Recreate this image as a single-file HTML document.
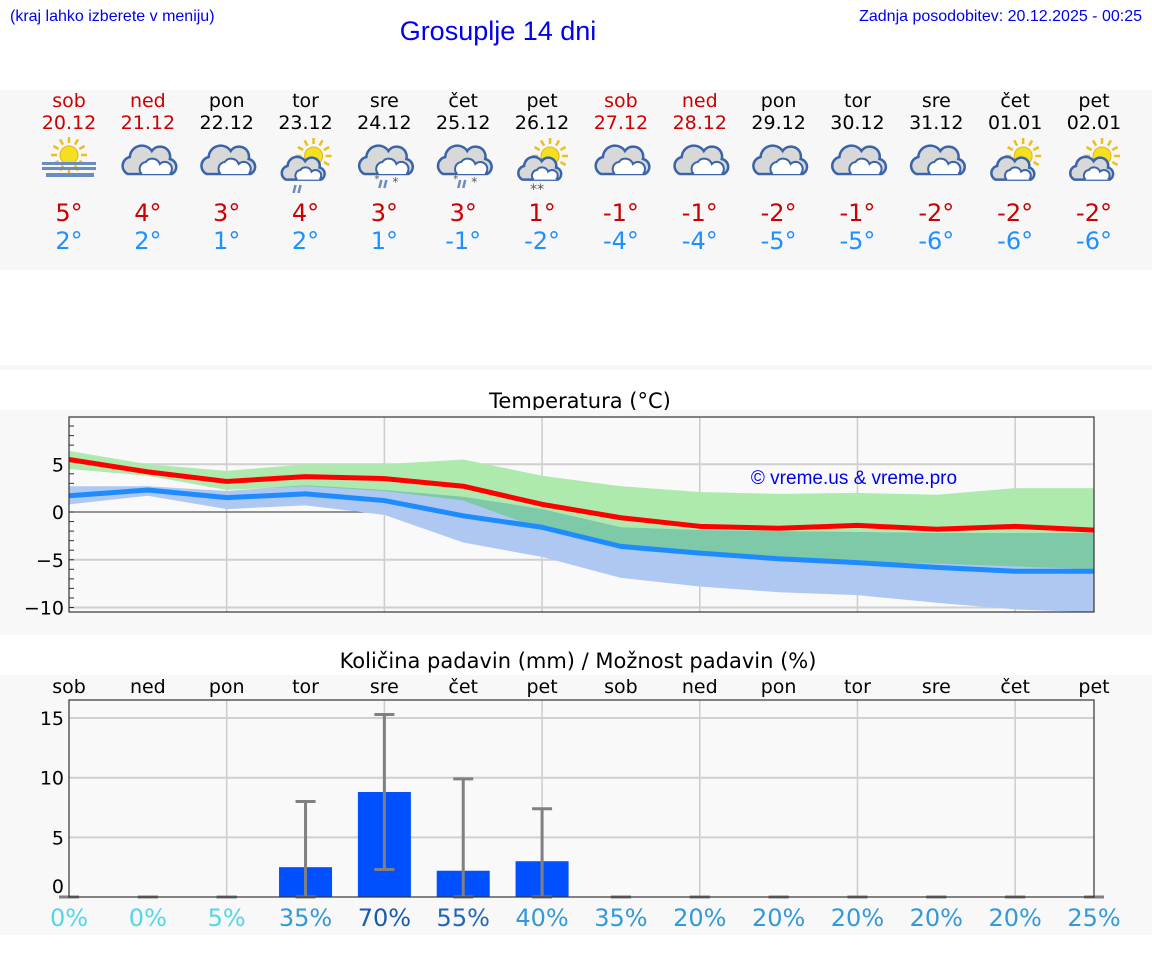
<!DOCTYPE html>
<html><head><meta charset="utf-8"><style>
body{margin:0;background:#fff;font-family:"Liberation Sans","DejaVu Sans",sans-serif;}
svg{display:block}
</style></head><body>
<svg id="s" width="1152" height="975" xmlns="http://www.w3.org/2000/svg" font-family="'DejaVu Sans','Liberation Sans',sans-serif">
<rect x="0" y="0" width="1152" height="975" fill="#fff"/>
<text x="10" y="21" font-size="16" fill="#0000ee" font-family="'Liberation Sans',sans-serif">(kraj lahko izberete v meniju)</text>
<text x="498" y="40" font-size="27" fill="#0000ee" text-anchor="middle" font-family="'Liberation Sans',sans-serif">Grosuplje 14 dni</text>
<text x="1142" y="21" font-size="16" fill="#0000ee" text-anchor="end" font-family="'Liberation Sans',sans-serif">Zadnja posodobitev: 20.12.2025 - 00:25</text>
<rect x="0" y="90" width="1152" height="180" fill="#f7f7f7"/>
<rect x="0" y="365" width="1152" height="5" fill="#f7f7f7"/>
<text x="580" y="408" font-size="21" text-anchor="middle" fill="#000">Temperatura (°C)</text>
<rect x="0" y="410" width="1152" height="225" fill="#f8f8f8"/>
<text x="578" y="668" font-size="21" text-anchor="middle" fill="#000">Količina padavin (mm) / Možnost padavin (%)</text>
<rect x="0" y="675" width="1152" height="260" fill="#f8f8f8"/>
<defs><clipPath id="loclip"><path id="loclipPath" d=""/></clipPath></defs>
<g id="summary"></g>
<g id="temp"></g>
<g id="prec"></g>
</svg>
<script>
const dayNames=["sob","ned","pon","tor","sre","čet","pet","sob","ned","pon","tor","sre","čet","pet"];
const dates=["20.12","21.12","22.12","23.12","24.12","25.12","26.12","27.12","28.12","29.12","30.12","31.12","01.01","02.01"];
const weekend=[1,1,0,0,0,0,0,1,1,0,0,0,0,0];
const icons=["fog","cloud","cloud","sunrain","sleet","sleet","sunsnow","cloud","cloud","cloud","cloud","cloud","suncloud","suncloud"];
const tMax=[5,4,3,4,3,3,1,-1,-1,-2,-1,-2,-2,-2];
const tMin=[2,2,1,2,1,-1,-2,-4,-4,-5,-5,-6,-6,-6];
const hiLine=[5.5,4.2,3.2,3.7,3.5,2.7,0.8,-0.6,-1.5,-1.7,-1.4,-1.8,-1.5,-1.9];
const loLine=[1.7,2.3,1.5,1.9,1.2,-0.4,-1.6,-3.6,-4.3,-4.9,-5.3,-5.8,-6.2,-6.2];
const hiBandMax=[6.4,5.0,4.3,5.0,5.0,5.5,3.8,2.7,2.1,1.9,2.0,1.8,2.5,2.5];
const hiBandMin=[4.5,3.8,2.3,2.7,2.2,1.2,-1.8,-3.9,-4.6,-5.0,-5.2,-5.4,-5.7,-6.0];
const loBandMax=[2.7,2.7,2.2,2.8,2.3,1.6,0.3,-1.6,-1.9,-2.0,-2.1,-2.2,-2.2,-2.2];
const loBandMin=[0.8,1.7,0.3,0.7,-0.3,-3.2,-4.7,-6.9,-7.8,-8.4,-8.7,-9.5,-10.2,-10.5];
const tempTicks=[5,0,-5,-10];
const precip=[0,0,0,2.5,8.8,2.2,3.0,0,0,0,0,0,0,0];
const precipHi=[0,0,0,8.0,15.3,9.9,7.4,0,0,0,0,0,0,0];
const precipLo=[0,0,0,0,2.3,0,0,0,0,0,0,0,0,0];
const chance=[0,0,5,35,70,55,40,35,20,20,20,20,20,25];
const precipTicks=[15,10,5,0];

const NS="http://www.w3.org/2000/svg";
function mk(tag,attrs,parent,txt){const e=document.createElementNS(NS,tag);for(const k in attrs)e.setAttribute(k,attrs[k]);if(txt!==undefined)e.textContent=txt;parent.appendChild(e);return e;}
const X0=69,X1=1094,N=14;
const xd=i=>X0+i*(X1-X0)/(N-1);

// summary
const sg=document.getElementById('summary');
function sun(g,cx,cy,r){const rays=mk('g',{stroke:'#e8c020','stroke-width':2.5},g);for(let a=0;a<12;a++){const t=a*Math.PI/6;mk('line',{x1:cx+Math.cos(t)*(r+3),y1:cy+Math.sin(t)*(r+3),x2:cx+Math.cos(t)*(r+9),y2:cy+Math.sin(t)*(r+9)},rays);}mk('circle',{cx:cx,cy:cy,r:r,fill:'#f5e020',stroke:'#e8b020','stroke-width':1},g);}
function cloud(g,cx,cy,s){const p=`M${cx-22*s},${cy+12*s} a${9*s},${9*s} 0 0 1 ${2*s},${-17*s} a${12*s},${12*s} 0 0 1 ${22*s},${-6*s} a${10*s},${10*s} 0 0 1 ${18*s},${8*s} a${8*s},${8*s} 0 0 1 ${2*s},${15*s} z`;mk('path',{d:p,fill:'#d8d8d8',stroke:'#3a64a8','stroke-width':2.5},g);mk('path',{d:`M${cx-8*s},${cy+12*s} a${7*s},${7*s} 0 0 1 ${4*s},${-12*s} a${8*s},${8*s} 0 0 1 ${14*s},${2*s} a${6*s},${6*s} 0 0 1 ${10*s},${10*s}`,fill:'#fff',stroke:'#3a64a8','stroke-width':2},g);}
for(let i=0;i<N;i++){const x=xd(i);const col=weekend[i]?'#cc0000':'#000';
 const d=mk('text',{x:x,y:107,'font-size':19,'text-anchor':'middle',fill:col},sg,dayNames[i]);
 
 
 const dt=mk('text',{x:x,y:129,'font-size':19,'text-anchor':'middle',fill:col},sg,dates[i]);
 
 
 const ig=mk('g',{},sg);
 
 
 const t=icons[i];
 if(t==='fog'){sun(ig,x,155,9);mk('rect',{x:x-27,y:162,width:54,height:3,fill:'#6a8cc0'},ig);mk('rect',{x:x-27,y:167,width:54,height:3,fill:'#6a8cc0'},ig);mk('rect',{x:x-23,y:173,width:48,height:4,fill:'#6a8cc0'},ig);}
 else if(t==='cloud'){cloud(ig,x+2,162,1);}
 else if(t==='sunrain'){sun(ig,x+8,156,9);cloud(ig,x-2,170,0.8);mk('path',{d:`M${x-10},185 l-2,8 M${x-5},185 l-2,8`,stroke:'#6a8cc0','stroke-width':2.5},ig);}
 else if(t==='sleet'){cloud(ig,x+2,162,1);mk('path',{d:`M${x-3},180 l-2,8 M${x+2},180 l-2,8`,stroke:'#6a8cc0','stroke-width':2.5},ig);mk('text',{x:x+8,y:186,'font-size':12,fill:'#555'},ig,'*');mk('text',{x:x-10,y:182,'font-size':10,fill:'#555'},ig,'*');}
 else if(t==='sunsnow'){sun(ig,x+8,156,9);cloud(ig,x-2,170,0.8);mk('text',{x:x-12,y:194,'font-size':14,fill:'#555'},ig,'**');}
 else {sun(ig,x+8,156,9);cloud(ig,x-2,170,0.8);}
 const h=mk('text',{x:x,y:221,'font-size':24,'text-anchor':'middle',fill:'#cc0000'},sg,tMax[i]+'°');
 
 
 const l=mk('text',{x:x,y:249,'font-size':24,'text-anchor':'middle',fill:'#1e90ff'},sg,tMin[i]+'°');
 
 
}

// temperature chart
const tg=document.getElementById('temp');
const TY0=417,TY1=612;const ty=v=>512-v*9.55;
mk('rect',{x:X0,y:TY0,width:X1-X0,height:TY1-TY0,fill:'#f9f9f9'},tg);
for(let i=2;i<N;i+=2){mk('line',{x1:xd(i),y1:TY0,x2:xd(i),y2:TY1,stroke:'#ccc','stroke-width':1.5},tg);}
tempTicks.forEach(v=>{const gl=mk('line',{x1:X0,y1:ty(v),x2:X1,y2:ty(v),stroke:v===0?'#555':'#d0d0d0','stroke-width':v===0?1.2:2},tg);
 const lb=mk('text',{x:64,y:ty(v)+7,'font-size':19,'text-anchor':'end',fill:'#000'},tg,v<0?'−'+(-v):String(v));
 
 });
for(let v=-10;v<=9;v++){mk('line',{x1:X0,y1:ty(v),x2:X0+5,y2:ty(v),stroke:'#333','stroke-width':1},tg);}
function bandPath(top,bot){let d='M'+top.map((v,i)=>xd(i)+','+ty(v)).join(' L');for(let i=N-1;i>=0;i--)d+=' L'+xd(i)+','+ty(bot[i]);return d+'Z';}
function band(top,bot,fill,name,extra){const p=mk('path',Object.assign({d:bandPath(top,bot),fill:fill},extra||{}),tg);
 
 }
document.getElementById('loclipPath').setAttribute('d',bandPath(loBandMax,loBandMin));
band(hiBandMax,hiBandMin,'#aeeaae','max-temperature-range');
band(loBandMax,loBandMin,'#aec8f2','min-temperature-range');
band(hiBandMax,hiBandMin,'#7dc9a8','temperature-range-overlap',{'clip-path':'url(#loclip)'});
const wm=mk('text',{x:854,y:484,'font-size':19,'text-anchor':'middle',fill:'#0000ee',
 'font-family':"'Liberation Sans',sans-serif"},tg,'© vreme.us & vreme.pro');


function line(arr,col,name){const p=mk('polyline',{points:arr.map((v,i)=>xd(i)+','+ty(v)).join(' '),fill:'none',stroke:col,'stroke-width':5,'stroke-linejoin':'round'},tg);
 
 }
line(loLine,'#1e8cff','min-temperature-line');
line(hiLine,'#ff0000','max-temperature-line');
mk('rect',{x:X0,y:TY0,width:X1-X0,height:TY1-TY0,fill:'none',stroke:'#333','stroke-width':1.2},tg);

// precipitation chart
const pg=document.getElementById('prec');
const PY0=700,PY1=897;const py=v=>897-v*11.93;
mk('rect',{x:X0,y:PY0,width:X1-X0,height:PY1-PY0,fill:'#f9f9f9'},pg);
for(let i=2;i<N;i+=2){mk('line',{x1:xd(i),y1:PY0,x2:xd(i),y2:PY1,stroke:'#ccc','stroke-width':1.5},pg);}
precipTicks.forEach(v=>{if(v>0)mk('line',{x1:X0,y1:py(v),x2:X1,y2:py(v),stroke:'#d0d0d0','stroke-width':2},pg);
 const lb=mk('text',{x:64,y:(v===0?886:py(v))+7,'font-size':19,'text-anchor':'end',fill:'#000'},pg,String(v));
 
 });
for(let i=0;i<N;i++){const x=xd(i);
 const dn=mk('text',{x:x,y:693,'font-size':19,'text-anchor':'middle',fill:'#000'},pg,dayNames[i]);
 
 
 if(precip[i]>0){const b=mk('rect',{x:x-26.5,y:py(precip[i]),width:53,height:py(0)-py(precip[i]),fill:'#0050ff'},pg);
  
  }
 const eb=mk('g',{stroke:'#808080','stroke-width':3},pg);
 
 
 mk('line',{x1:x,y1:py(precipLo[i]),x2:x,y2:py(precipHi[i])},eb);
 mk('line',{x1:x-10,y1:py(precipHi[i]),x2:x+10,y2:py(precipHi[i])},eb);
 mk('line',{x1:x-10,y1:py(precipLo[i]),x2:x+10,y2:py(precipLo[i])},eb);
 const c=chance[i];const col=c<=5?'#55d6e6':c>=70?'#1a5aac':c>=55?'#2266b8':'#3399d8';
 const ct=mk('text',{x:x,y:926,'font-size':24,'text-anchor':'middle',fill:col},pg,c+'%');
 
 
}
mk('rect',{x:X0,y:PY0,width:X1-X0,height:PY1-PY0,fill:'none',stroke:'#333','stroke-width':1.2},pg);
</script>
</body></html>
